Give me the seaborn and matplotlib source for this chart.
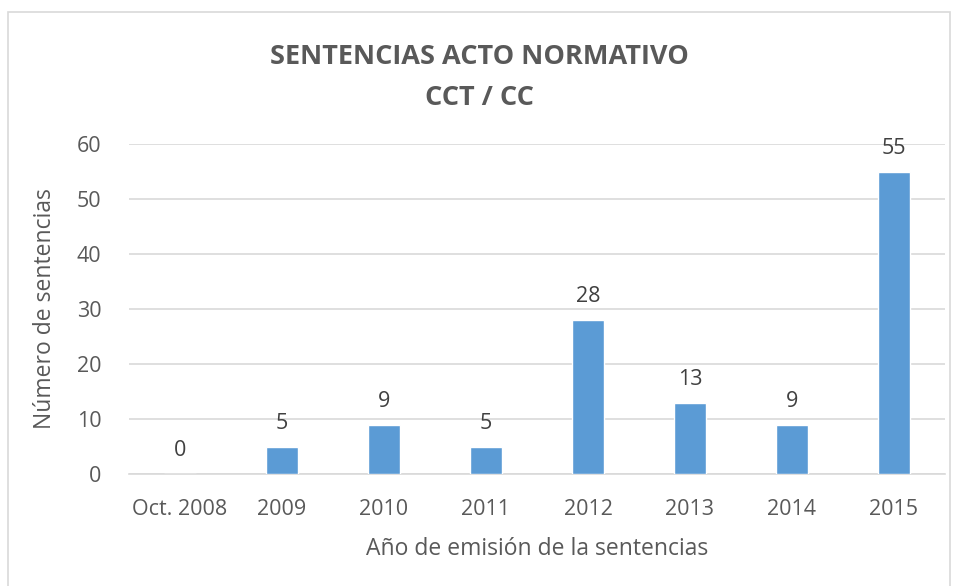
import matplotlib
matplotlib.use("Agg")
import matplotlib.pyplot as plt
import seaborn as sns
import pandas as pd
from matplotlib.patches import Rectangle

# datos
anios = ["Oct. 2008", "2009", "2010", "2011", "2012", "2013", "2014", "2015"]
sentencias = [0, 5, 9, 5, 28, 13, 9, 55]

sns.set_theme(style="white")
plt.rcParams['font.family'] = ['Open Sans', 'DejaVu Sans']

gris = "#595959"
df = pd.DataFrame({"anio": anios, "n": sentencias})

fig = plt.figure(figsize=(9.58, 5.86), dpi=100)
ax = fig.add_axes([129 / 958, 1 - 474 / 586, 816 / 958, 330 / 586])

sns.barplot(data=df, x="anio", y="n", color="#5B9BD5", width=0.31,
            saturation=1, ax=ax, zorder=3)

ax.set_ylim(0, 60)
ax.set_yticks(range(0, 61, 10))
ax.grid(axis="y", color="#D9D9D9", linewidth=1.2, zorder=0)
for s in ["top", "right", "left"]:
    ax.spines[s].set_visible(False)
ax.spines["bottom"].set_color("#D9D9D9")
ax.spines["bottom"].set_linewidth(1.2)
ax.tick_params(axis="both", colors=gris, labelsize=15.5, length=0)
ax.tick_params(axis="x", pad=18)
ax.tick_params(axis="y", pad=20)

# etiquetas de valor
for i, v in enumerate(sentencias):
    ax.annotate(str(v), (i, v), xytext=(0, 9), textcoords="offset points",
                ha="center", va="bottom", fontsize=15.5, color="#404040")

ax.set_xlabel("Año de emisión de la sentencias", fontsize=16.5, color=gris, labelpad=12)
ax.set_ylabel("Número de sentencias", fontsize=16.5, color=gris, labelpad=14)

fig.text(0.5, 1 - 77 / 586, "SENTENCIAS ACTO NORMATIVO\nCCT / CC", ha="center",
         va="center", fontsize=19.5, fontweight="bold", color=gris, linespacing=1.75)

# marco del gráfico
fig.patches.append(Rectangle((8 / 958, -0.01), 942 / 958, 1 - 12 / 586 + 0.01,
                             transform=fig.transFigure, fill=False,
                             edgecolor="#D9D9D9", linewidth=1.2))

fig.savefig("out.png", dpi=100)
